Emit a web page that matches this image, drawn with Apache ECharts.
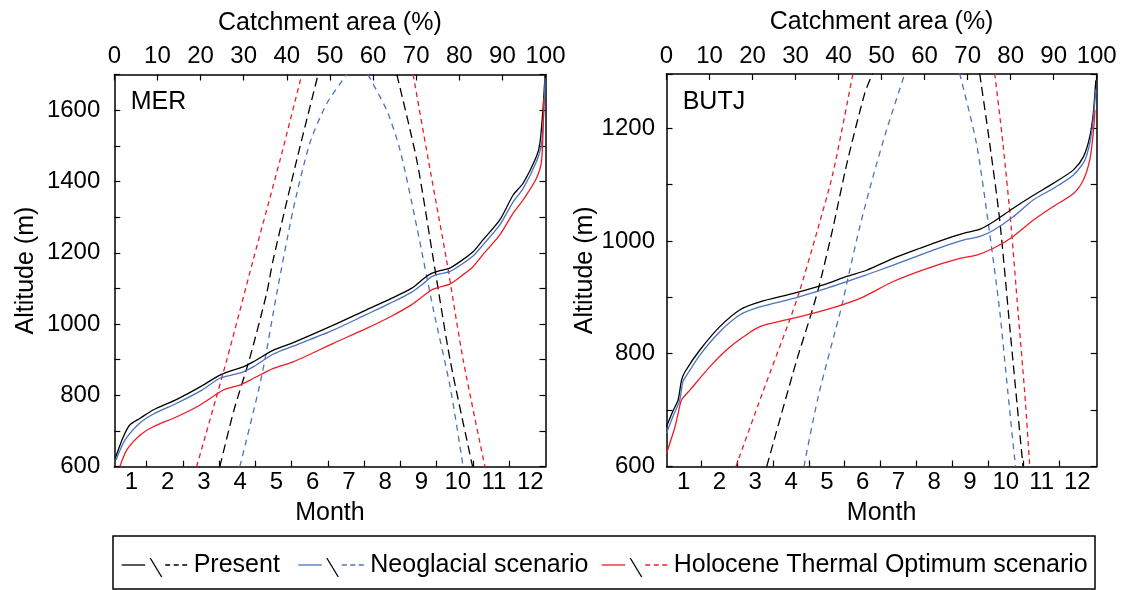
<!DOCTYPE html>
<html><head><meta charset="utf-8">
<script src="https://cdn.jsdelivr.net/npm/echarts@6/dist/echarts.min.js"></script>
<style>html,body{margin:0;padding:0;background:#fff}#c{width:1126px;height:590px}</style>
</head><body><div id="c"></div>
<script>
// ---------- DATA ----------
const monthLabels = ['1','2','3','4','5','6','7','8','9','10','11','12'];
const monthTicks = [1,2,3,4,5,6,7,8,9,10,11];
const panelNames = ['MER','BUTJ'];
const legendNames = ['Present','Neoglacial scenario','Holocene Thermal Optimum scenario'];

// MER: hypsometric curves [catchment area %, altitude m]
const merPresentArea = [[0.2,623],[2.1,684],[3.6,717],[6.0,736],[9.0,759],[14.5,789],[19.9,824],[24.5,857],[27.6,871],[29.9,880],[32.2,894],[36.9,927],[41.5,948],[50.8,997],[58.5,1040],[63.9,1070],[68.9,1100],[72.0,1130],[73.6,1142],[75.5,1150],[77.8,1157],[80.5,1178],[83.2,1203],[85.5,1236],[89.4,1292],[92.5,1362],[94.8,1395],[97.9,1470],[98.7,1507],[99.4,1600],[99.9,1700]];
const merNeoArea = [[0.4,619],[2.5,675],[6.0,723],[9.0,747],[14.5,778],[19.9,812],[24.5,848],[27.6,858],[29.9,866],[32.2,880],[36.9,916],[41.5,938],[50.8,983],[58.5,1027],[63.9,1058],[68.9,1089],[72.0,1117],[73.6,1133],[75.5,1141],[77.8,1147],[80.5,1167],[83.2,1191],[85.5,1222],[89.4,1278],[92.5,1343],[94.8,1380],[97.9,1456],[99.1,1507],[99.7,1619],[99.9,1690]];
const merHtoArea = [[1.3,600],[2.9,647],[6.0,689],[9.0,712],[14.5,740],[19.9,773],[25.3,815],[29.1,829],[31.5,843],[36.9,876],[41.5,894],[50.8,946],[58.5,988],[63.9,1020],[68.9,1054],[72.0,1082],[73.6,1096],[75.5,1104],[77.8,1112],[80.5,1135],[83.2,1161],[85.5,1195],[89.4,1250],[92.5,1311],[94.8,1348],[97.9,1409],[99.1,1460],[99.6,1633]];
// MER: snow line [month, altitude m]
const merPresentRise = [[3.02,600],[3.41,759],[3.83,899],[4.31,1086],[4.49,1180],[5.14,1460],[5.73,1700]];
const merPresentFall = [[7.90,1700],[8.45,1460],[8.91,1180],[9.37,899],[9.99,600]];
const merNeoRise = [[3.57,600],[4.17,852],[4.59,1086],[5.04,1320],[5.50,1507],[5.97,1619],[6.52,1700]];
const merNeoFall = [[7.10,1700],[7.62,1600],[7.99,1488],[8.45,1273],[8.91,1040],[9.37,824],[9.73,600]];
const merHtoRise = [[2.38,600],[3.21,899],[3.94,1180],[4.68,1460],[5.28,1700]];
const merHtoFall = [[8.35,1700],[8.77,1460],[9.27,1180],[9.73,899],[10.33,600]];

// BUTJ: hypsometric curves
const butPresentArea = [[0,671],[1.6,700],[2.7,718],[3.5,753],[4.3,768],[7.8,807],[12.4,848],[17.1,878],[21.7,892],[29.5,907],[37.2,924],[41.9,937],[46.5,948],[52.7,969],[58.9,987],[64.3,1002],[69.8,1015],[72.9,1021],[76.0,1034],[80.6,1058],[85.3,1081],[89.9,1102],[94.6,1126],[96.9,1149],[98.4,1185],[99.2,1226],[99.8,1285]];
const butNeoArea = [[0,659],[1.6,691],[3.0,715],[3.8,750],[4.7,762],[7.8,798],[12.4,839],[17.1,869],[21.7,883],[29.5,898],[37.2,916],[41.9,928],[46.5,940],[52.7,957],[58.9,975],[64.3,990],[69.8,1003],[72.9,1008],[76.0,1019],[80.6,1043],[85.3,1073],[89.9,1093],[94.6,1117],[97.3,1144],[98.8,1191],[99.8,1268]];
const butHtoArea = [[0,623],[2.0,671],[2.7,694],[3.5,718],[5.5,736],[10.1,777],[14.0,807],[17.9,830],[21.7,848],[29.5,863],[37.2,878],[45.0,898],[52.7,928],[60.5,951],[68.2,969],[72.1,975],[76.0,987],[80.6,1008],[85.3,1037],[89.9,1061],[94.6,1084],[96.9,1108],[98.4,1144],[99.2,1191],[99.6,1232]];
// BUTJ: snow line
const butPresentRise = [[2.82,600],[3.66,789],[4.07,872],[4.30,924],[4.66,1020],[5.07,1140],[5.56,1262],[5.78,1297]];
const butPresentFall = [[8.77,1297],[9.05,1173],[9.33,1037],[9.61,848],[9.98,600]];
const butNeoRise = [[3.86,600],[4.26,724],[4.91,883],[5.09,934],[5.42,1025],[5.79,1114],[6.17,1197],[6.68,1297]];
const butNeoFall = [[8.21,1297],[8.68,1173],[9.05,1013],[9.33,876],[9.56,730],[9.77,600]];
const butHtoRise = [[1.96,600],[2.70,730],[3.45,858],[3.72,907],[4.21,1013],[4.67,1120],[5.23,1297]];
const butHtoFall = [[9.19,1297],[9.42,1173],[9.65,1025],[9.84,876],[10.03,730],[10.17,600]];

// ---------- STYLE ----------
const FONT = "'Liberation Sans', Arial, Helvetica, sans-serif";
const COLORS = ['#000000', '#4a72c2', '#ee1c25'];
const DASHES = [[9,5],[6,5],[5,4]];

const chart = echarts.init(document.getElementById('c'), null, {renderer:'canvas'});

const grids = [
  {left:114.3, top:74.5, width:431.2, height:392.2},
  {left:666.5, top:74, width:430.2, height:392.5}
];
const panelCfg = [
  {mMin:0.11, mMax:12.0, shift:0.42, yMax:1700, yMargin:14, yNameGap:76},
  {mMin:0.02, mMax:12.04, shift:0.5, yMax:1296, yMargin:11.5, yNameGap:68}
];

const lineStyleAxis = {color:'#000', width:1.5};
const tickStyle = {color:'#000', width:1.2};
const xAxes = [], yAxes = [];
panelCfg.forEach((p, g) => {
  xAxes.push({
    gridIndex:g, type:'value', position:'top', min:0, max:100, interval:10,
    name:'Catchment area (%)', nameLocation:'middle', nameGap:39,
    nameTextStyle:{fontSize:25, color:'#000', fontFamily:FONT},
    axisLine:{show:true, onZero:false, lineStyle:lineStyleAxis},
    axisTick:{show:true, inside:true, length:6, lineStyle:tickStyle},
    axisLabel:{fontSize:24, color:'#000', fontFamily:FONT, margin:6},
    splitLine:{show:false}
  });
  xAxes.push({
    gridIndex:g, type:'value', position:'bottom', min:p.mMin, max:p.mMax,
    name:'Month', nameLocation:'middle', nameGap:34,
    nameTextStyle:{fontSize:25, color:'#000', fontFamily:FONT},
    axisLine:{show:true, onZero:false, lineStyle:lineStyleAxis},
    axisTick:{show:true, inside:true, length:6, lineStyle:tickStyle, customValues:monthTicks},
    axisLabel:{fontSize:24, color:'#000', fontFamily:FONT, margin:4,
      customValues: monthLabels.map((m,i) => i + 1 - p.shift),
      formatter: v => monthLabels[Math.round(v + p.shift) - 1] || ''},
    splitLine:{show:false}
  });
  yAxes.push({
    gridIndex:g, type:'value', position:'left', min:600, max:p.yMax, interval:100,
    name:'Altitude (m)', nameLocation:'middle', nameGap:p.yNameGap, nameRotate:90,
    nameTextStyle:{fontSize:25, color:'#000', fontFamily:FONT},
    axisLine:{show:true, onZero:false, lineStyle:lineStyleAxis},
    axisTick:{show:true, inside:true, length:6, lineStyle:tickStyle},
    axisLabel:{fontSize:24, color:'#000', fontFamily:FONT, margin:p.yMargin,
      formatter: v => (v % 200 === 0 ? String(v) : '')},
    splitLine:{show:false}
  });
  yAxes.push({
    gridIndex:g, type:'value', position:'right', min:600, max:p.yMax, interval:100,
    axisLine:{show:true, onZero:false, lineStyle:lineStyleAxis},
    axisTick:{show:true, inside:true, length:6, lineStyle:tickStyle},
    axisLabel:{show:false},
    splitLine:{show:false}
  });
});

function mk(data, xi, yi, ci, dashed) {
  return {
    type:'line', data, xAxisIndex:xi, yAxisIndex:yi,
    symbol:'none', showSymbol:false, smooth:0.25,
    clip:true, silent:true, animation:false,
    lineStyle:{color:COLORS[ci], width:1.3, type: dashed ? DASHES[ci] : 'solid'},
    z: dashed ? 2 : 3
  };
}
const series = [
  mk(merPresentArea,0,0,0,false), mk(merNeoArea,0,0,1,false), mk(merHtoArea,0,0,2,false),
  mk(merPresentRise,1,0,0,true), mk(merPresentFall,1,0,0,true),
  mk(merNeoRise,1,0,1,true), mk(merNeoFall,1,0,1,true),
  mk(merHtoRise,1,0,2,true), mk(merHtoFall,1,0,2,true),
  mk(butPresentArea,2,2,0,false), mk(butNeoArea,2,2,1,false), mk(butHtoArea,2,2,2,false),
  mk(butPresentRise,3,2,0,true), mk(butPresentFall,3,2,0,true),
  mk(butNeoRise,3,2,1,true), mk(butNeoFall,3,2,1,true),
  mk(butHtoRise,3,2,2,true), mk(butHtoFall,3,2,2,true)
];

// legend drawn as graphic
const legendItemX = [121.7, 298.3, 601.7];
const legendY = 565;
const graphics = [
  {type:'rect', shape:{x:113, y:536, width:982, height:53}, style:{fill:'none', stroke:'#000', lineWidth:1.5}},
  {type:'text', x:130.7, y:102, style:{text:panelNames[0], font:'25px ' + FONT, fill:'#000', verticalAlign:'middle', align:'left'}},
  {type:'text', x:682.7, y:102, style:{text:panelNames[1], font:'25px ' + FONT, fill:'#000', verticalAlign:'middle', align:'left'}}
];
legendNames.forEach((n, i) => {
  const x = legendItemX[i];
  graphics.push({type:'line', shape:{x1:x, y1:legendY, x2:x+23.5, y2:legendY}, style:{stroke:COLORS[i], lineWidth:1.3}});
  graphics.push({type:'line', shape:{x1:x+28.5, y1:legendY-7, x2:x+40, y2:legendY+12}, style:{stroke:'#000', lineWidth:1.3}});
  graphics.push({type:'line', shape:{x1:x+43.5, y1:legendY, x2:x+67, y2:legendY}, style:{stroke:COLORS[i], lineWidth:1.3, lineDash:[5,3.5]}});
  graphics.push({type:'text', x:x+72, y:legendY, style:{text:n, font:'25px ' + FONT, fill:'#000', verticalAlign:'middle', align:'left'}});
});

chart.setOption({
  animation:false,
  backgroundColor:'#fff',
  grid: grids,
  xAxis: xAxes,
  yAxis: yAxes,
  series,
  graphic: graphics
});
</script>
</body></html>
